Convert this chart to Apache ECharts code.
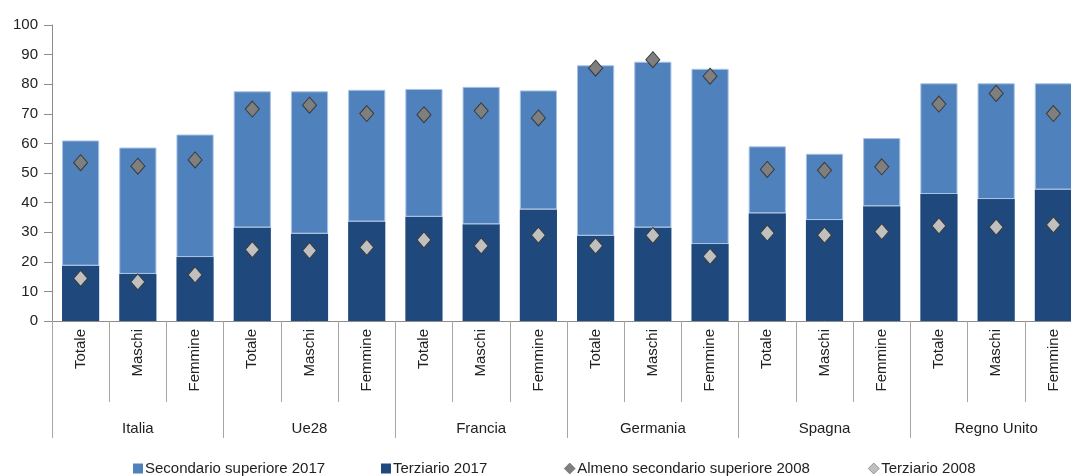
<!DOCTYPE html>
<html>
<head>
<meta charset="utf-8">
<script src="https://cdn.jsdelivr.net/npm/echarts@6/dist/echarts.min.js"></script>
<style>
  html, body { margin: 0; padding: 0; background: #fff; overflow: hidden; }
  #chart { width: 1082px; height: 476px; }
</style>
</head>
<body>
<div id="chart"></div>
<script>
// categorie
const sottoCategorie = ['Totale', 'Maschi', 'Femmine'];
const paesi = ['Italia', 'Ue28', 'Francia', 'Germania', 'Spagna', 'Regno Unito'];
const categorie = paesi.flatMap(() => sottoCategorie);

// valori
const terziario2017 = [18.7, 15.9, 21.6, 31.6, 29.5, 33.6, 35.2, 32.7, 37.7, 28.8, 31.6, 26.0, 36.4, 34.1, 38.8, 42.9, 41.2, 44.4];
const secondario2017 = [42.3, 42.7, 41.4, 46.0, 48.1, 44.5, 43.2, 46.4, 40.2, 57.6, 56.0, 59.2, 22.6, 22.4, 23.0, 37.4, 39.1, 35.9];
const almenoSecondario2008 = [53.5, 52.3, 54.4, 71.6, 72.9, 70.1, 69.7, 71.0, 68.6, 85.4, 88.3, 82.7, 51.2, 50.9, 52.1, 73.3, 76.9, 70.1];
const terziario2008 = [14.4, 13.2, 15.6, 24.1, 23.8, 24.9, 27.4, 25.4, 29.0, 25.4, 28.9, 21.8, 29.7, 29.0, 30.2, 32.1, 31.7, 32.5];
const yTicks = { min: 0, max: 100, interval: 10 };

const FONT = "'Liberation Sans Narrow', 'Arial Narrow', 'Liberation Sans', sans-serif";
// il grafico originale è tagliato a destra: il div è più largo della finestra
const chart = echarts.init(document.getElementById('chart'));

const legendItem = (name, left, icon) => ({
  data: [{ name: name, icon: icon }],
  left: left,
  top: 456,
  itemWidth: icon === 'rect' ? 10 : 11,
  itemHeight: icon === 'rect' ? 10 : 11,
  itemGap: 0,
  itemStyle: icon === 'rect' ? { borderWidth: 0 } : { borderColor: '#555', borderWidth: 0.5 },
  textStyle: { fontFamily: FONT, fontSize: 15, color: '#222', padding: [0, 0, 0, -3] }
});

const option = {
  animation: false,
  backgroundColor: '#fff',
  grid: { left: 52, right: 0, top: 25, bottom: 155 },
  legend: [
    legendItem('Secondario superiore 2017', 128, 'rect'),
    legendItem('Terziario 2017', 376, 'rect'),
    legendItem('Almeno secondario superiore 2008', 559, 'diamond'),
    legendItem('Terziario 2008', 863, 'diamond')
  ],
  xAxis: [
    {
      type: 'category',
      data: categorie,
      position: 'bottom',
      axisLine: { lineStyle: { color: '#8c8c8c' } },
      axisTick: { show: true, interval: 0, length: 81, lineStyle: { color: '#a6a6a6' } },
      axisLabel: { interval: 0, rotate: 90, margin: 8, fontFamily: FONT, fontSize: 15, color: '#222' }
    },
    {
      type: 'category',
      data: paesi,
      position: 'bottom',
      offset: 81,
      axisLine: { show: false },
      axisTick: { show: true, interval: 0, length: 36, lineStyle: { color: '#a6a6a6' } },
      axisLabel: { interval: 0, margin: 19, fontFamily: FONT, fontSize: 15, color: '#222' }
    }
  ],
  yAxis: {
    type: 'value',
    min: yTicks.min,
    max: yTicks.max,
    interval: yTicks.interval,
    splitLine: { show: false },
    axisLine: { show: true, lineStyle: { color: '#8c8c8c' } },
    axisTick: { show: true, length: 8, lineStyle: { color: '#8c8c8c' } },
    axisLabel: { margin: 14, fontFamily: FONT, fontSize: 15, color: '#222' }
  },
  series: [
    {
      name: 'Terziario 2017',
      type: 'bar',
      stack: 'tot',
      barWidth: '65%',
      itemStyle: { color: '#1f497d' },
      data: terziario2017
    },
    {
      name: 'Secondario superiore 2017',
      type: 'bar',
      stack: 'tot',
      barWidth: '65%',
      itemStyle: { color: '#4f81bd', borderColor: '#a9c2e2', borderWidth: 1 },
      data: secondario2017
    },
    {
      name: 'Almeno secondario superiore 2008',
      type: 'scatter',
      symbol: 'diamond',
      symbolSize: [14, 16],
      itemStyle: { color: '#7f7f7f', borderColor: '#3a3a3a', borderWidth: 1, opacity: 1 },
      z: 5,
      data: almenoSecondario2008
    },
    {
      name: 'Terziario 2008',
      type: 'scatter',
      symbol: 'diamond',
      symbolSize: [14, 16],
      itemStyle: { color: '#c0c0c0', borderColor: '#3a3a3a', borderWidth: 1, opacity: 1 },
      z: 5,
      data: terziario2008
    }
  ]
};

chart.setOption(option);
</script>
</body>
</html>
